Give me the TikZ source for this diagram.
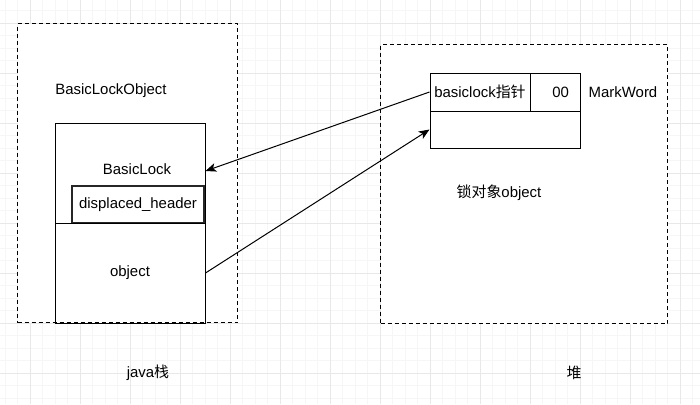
\documentclass[tikz,border=0pt]{standalone}
\usepackage{fontspec}
\setmainfont{Liberation Sans}
\newfontfamily\cjk{Noto Sans CJK SC}
\usetikzlibrary{arrows.meta}

\definecolor{gridminor}{RGB}{246,246,246}
\definecolor{gridmajor}{RGB}{232,232,232}

\tikzset{
  box/.style 2 args={draw,line width=0.75pt,inner sep=0pt,
    minimum width=#1*0.75pt,minimum height=#2*0.75pt},
  dashbox/.style={dash pattern=on 3pt off 2.25pt},
  ptr/.style={-{Stealth[length=8pt,width=6.5pt,inset=2pt]},line width=0.75pt}
}

\begin{document}
\begin{tikzpicture}[x=0.75pt,y=-0.75pt,font=\fontsize{11.2}{13}\selectfont]

\useasboundingbox (0,0) rectangle (700,404);
\fill[white] (0,0) rectangle (700,404);

% grid
\begin{scope}[line width=0.75pt]
\foreach \x in {5,17.5,...,700} \draw[gridminor] (\x,0) -- (\x,404);
\foreach \y in {10.5,23,...,404} \draw[gridminor] (0,\y) -- (700,\y);
\foreach \x in {30,80,...,680} \draw[gridmajor] (\x,0) -- (\x,404);
\foreach \y in {23,73,...,373} \draw[gridmajor] (0,\y) -- (700,\y);
\end{scope}

% java stack
\node[box={220}{299},dashbox,fill=white] (stack) at (127.5,173) {};
\node (stacklabel) at (111,91) {BasicLockObject};
\node[box={150}{100},fill=white] (lock) at (130,173) {};
\node (locklabel) at (137,169) {BasicLock};
\node[box={132}{37},line width=1.1pt,draw=black!85] (header) at (138,204.5) {displaced\_header};
\node[box={150}{100}] (obj) at (130,273) {object};

% heap
\node[box={287}{279},dashbox,fill=white] (heap) at (524,184) {};
\node[box={100}{38}] (mark) at (480,92) {basiclock{\cjk 指针}};
\node[box={50}{38},text width=28*0.75pt,inner xsep=11*0.75pt,align=right] (bits) at (555,92) {00};
\node[box={150}{37}] (body) at (505,129.5) {};
\node (marklabel) at (623,92) {MarkWord};
\node (heaplabel) at (499,193) {{\cjk 锁对象}object};

\node (javalabel) at (148,373) {java{\cjk 栈}};
\node (duilabel) at (574,373) {{\cjk 堆}};

\draw[ptr] (mark.west) -- ([yshift=1.5pt]lock.east);
\draw[ptr] (obj.east) -- (body.west);

\end{tikzpicture}
\end{document}
